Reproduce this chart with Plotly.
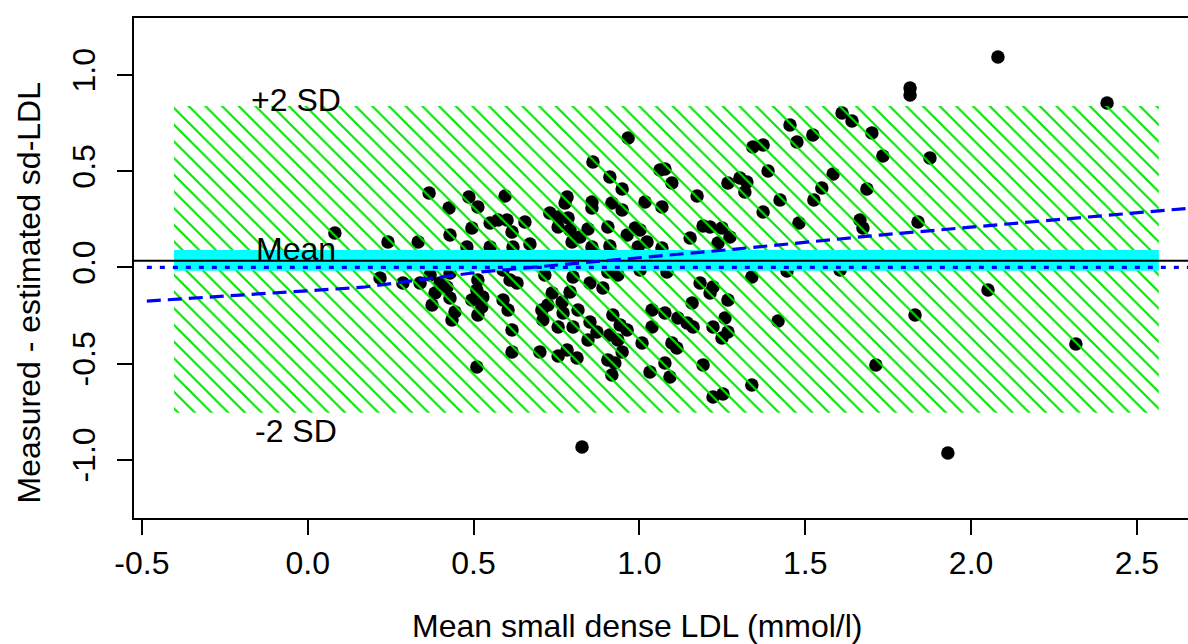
import plotly.graph_objects as go

# mean of the two methods (x) and measured - estimated difference (y)
mean_ldl = [
    0.082, 0.242, 0.333, 0.366, 0.426, 0.429, 0.486, 0.513, 0.495, 0.550,
    0.574, 0.480, 0.550, 0.595, 0.966, 0.860, 0.911, 0.948, 1.062, 1.077,
    1.098, 1.174, 1.267, 1.303, 1.324, 1.318, 1.342, 1.373, 1.388, 1.454,
    1.475, 1.424, 1.373, 1.481, 0.782, 0.776, 0.857, 0.857, 0.917, 0.948,
    1.017, 1.068, 0.730, 0.755, 0.785, 0.601, 0.655, 0.616, 0.755, 0.791,
    0.845, 0.905, 0.821, 0.797, 0.963, 0.987, 1.002, 1.023, 0.996, 1.192,
    1.213, 1.249, 1.273, 1.153, 1.237, 0.911, 0.857, 0.670, 0.619, 1.068,
    0.905, 0.935, 1.002, 1.611, 1.641, 1.523, 1.701, 1.734, 1.584, 1.550,
    1.686, 1.526, 1.665, 1.674, 1.816, 1.816, 1.876, 1.840, 2.081, 2.410,
    1.605, 0.218, 0.287, 0.339, 0.369, 0.399, 0.429, 0.420, 0.384, 0.429,
    0.375, 0.444, 0.435, 0.513, 0.510, 0.495, 0.528, 0.525, 0.513, 0.510,
    0.589, 0.610, 0.631, 0.715, 0.800, 0.851, 0.890, 0.737, 0.791, 0.767,
    0.589, 0.604, 0.706, 0.724, 0.709, 0.770, 0.815, 0.755, 0.800, 0.851,
    0.872, 0.845, 0.920, 0.942, 0.963, 0.911, 0.935, 0.948, 0.905, 0.926,
    0.917, 0.616, 0.616, 0.700, 0.755, 0.782, 0.812, 1.008, 1.038, 1.038,
    1.077, 1.116, 1.144, 1.162, 1.098, 1.113, 1.077, 1.032, 1.092, 1.159,
    1.183, 1.222, 1.213, 1.267, 1.258, 1.222, 1.267, 1.249, 1.192, 1.339,
    1.418, 1.339, 1.222, 1.252, 0.827, 1.445, 1.083, 1.713, 2.051, 1.831,
    2.316, 1.930,
]
diff_ldl = [
    0.179, 0.132, 0.132, 0.387, 0.309, 0.168, 0.366, 0.314, 0.205, 0.231,
    0.246, 0.106, 0.106, 0.371, 0.673, 0.548, 0.470, 0.407, 0.506, 0.511,
    0.439, 0.371, 0.439, 0.465, 0.444, 0.392, 0.626, 0.636, 0.501, 0.740,
    0.652, 0.350, 0.288, 0.231, 0.366, 0.335, 0.340, 0.309, 0.335, 0.298,
    0.340, 0.314, 0.283, 0.262, 0.257, 0.246, 0.236, 0.184, 0.210, 0.194,
    0.200, 0.210, 0.158, 0.132, 0.168, 0.205, 0.194, 0.132, 0.106, 0.215,
    0.210, 0.205, 0.158, 0.153, 0.127, 0.111, 0.106, 0.122, 0.106, 0.101,
    -0.024, -0.040, -0.014, 0.803, 0.761, 0.688, 0.699, 0.579, 0.485, 0.413,
    0.407, 0.350, 0.246, 0.205, 0.932, 0.896, 0.569, 0.236, 1.094, 0.854,
    -0.014, -0.055, -0.081, -0.081, -0.040, -0.081, -0.029, -0.102, -0.133, -0.159,
    -0.195, -0.232, -0.273, -0.065, -0.117, -0.169, -0.154, -0.206, -0.247, -0.518,
    -0.014, -0.065, -0.081, -0.040, -0.050, -0.081, -0.107, -0.133, -0.128, -0.180,
    -0.169, -0.221, -0.221, -0.195, -0.273, -0.237, -0.221, -0.310, -0.310, -0.284,
    -0.336, -0.377, -0.247, -0.299, -0.325, -0.351, -0.377, -0.440, -0.481, -0.497,
    -0.559, -0.325, -0.440, -0.440, -0.461, -0.429, -0.471, -0.393, -0.221, -0.310,
    -0.237, -0.263, -0.289, -0.310, -0.393, -0.419, -0.497, -0.544, -0.570, -0.185,
    -0.081, -0.102, -0.133, -0.169, -0.263, -0.310, -0.336, -0.367, -0.507, -0.050,
    -0.279, -0.611, -0.674, -0.658, -0.933, -0.019, -0.024, -0.507, -0.117, -0.247,
    -0.398, -0.965,
]

# limits of agreement, mean, CI of mean
band_x = [-0.403, 2.566]
lower_sd = -0.755
upper_sd = 0.839
mean_diff = 0.035
ci_low = -0.017
ci_high = 0.090

# regression of difference on mean
reg_x = [-0.485, 0.167, 0.519, 1.282, 1.725, 2.548, 2.660]
reg_y = [-0.175, -0.103, -0.024, 0.094, 0.168, 0.290, 0.308]

line_x = [-0.485, 2.70]
full_x = [-0.60, 2.70]

x_ticks = [-0.5, 0.0, 0.5, 1.0, 1.5, 2.0, 2.5]
x_labels = ["-0.5", "0.0", "0.5", "1.0", "1.5", "2.0", "2.5"]
y_ticks = [-1.0, -0.5, 0.0, 0.5, 1.0]
y_labels = ["-1.0", "-0.5", "0.0", "0.5", "1.0"]

FONT = "Liberation Sans, Arial, sans-serif"

fig = go.Figure()

fig.add_trace(go.Scatter(
    x=mean_ldl, y=diff_ldl, mode="markers",
    marker=dict(color="black", size=13.5, line=dict(width=0)),
    hoverinfo="skip"))

# hatched +-2 SD region, drawn over the points
fig.add_trace(go.Scatter(
    x=[band_x[0], band_x[1], band_x[1], band_x[0], band_x[0]],
    y=[lower_sd, lower_sd, upper_sd, upper_sd, lower_sd],
    mode="lines", line=dict(width=0), fill="toself",
    fillcolor="rgba(0,0,0,0)",
    fillpattern=dict(shape="\\", fgcolor="#00e600", bgcolor="rgba(0,0,0,0)",
                     fillmode="replace", size=11.8, solidity=0.18),
    hoverinfo="skip"))

# cyan band around the mean
fig.add_trace(go.Scatter(
    x=[band_x[0], band_x[1], band_x[1], band_x[0], band_x[0]],
    y=[ci_low, ci_low, ci_high, ci_high, ci_low],
    mode="lines", line=dict(width=0), fill="toself",
    fillcolor="#00ffff", hoverinfo="skip"))

fig.add_trace(go.Scatter(
    x=full_x, y=[mean_diff, mean_diff], mode="lines",
    line=dict(color="black", width=2), hoverinfo="skip"))

fig.add_trace(go.Scatter(
    x=line_x, y=[0, 0], mode="lines",
    line=dict(color="#0000ff", width=3.2, dash="5px,8px"), hoverinfo="skip"))

fig.add_trace(go.Scatter(
    x=reg_x, y=reg_y, mode="lines",
    line=dict(color="#0000ff", width=3.2, dash="14px,7px"), hoverinfo="skip"))

for txt, yy in [("+2 SD", 0.870), ("Mean", 0.096), ("-2 SD", -0.850)]:
    fig.add_annotation(x=-0.035, y=yy, text=txt, showarrow=False,
                       font=dict(family=FONT, size=32, color="black"),
                       xanchor="center", yanchor="middle")

fig.add_annotation(xref="paper", yref="paper", x=0.4775, y=-0.216,
                   text="Mean small dense LDL (mmol/l)", showarrow=False,
                   font=dict(family=FONT, size=32, color="black"),
                   xanchor="center", yanchor="middle")
fig.add_annotation(xref="paper", yref="paper", x=-0.0996, y=0.451,
                   text="Measured - estimated sd-LDL", showarrow=False,
                   textangle=-90,
                   font=dict(family=FONT, size=32, color="black"),
                   xanchor="center", yanchor="middle")

fig.update_layout(
    width=1188, height=644,
    margin=dict(l=134, r=0, t=18, b=126),
    paper_bgcolor="white", plot_bgcolor="white",
    showlegend=False,
    font=dict(family=FONT, size=32, color="black"),
    xaxis=dict(range=[-0.5237, 2.654], showgrid=False, zeroline=False,
               showline=True, linecolor="black", linewidth=2, mirror=True,
               ticks="outside", ticklen=15, tickwidth=1.5, tickcolor="black",
               tickvals=x_ticks, ticktext=x_labels, ticklabelstandoff=1),
    yaxis=dict(range=[-1.3025, 1.2963], showgrid=False, zeroline=False,
               showline=True, linecolor="black", linewidth=2,
               ticks="outside", ticklen=15, tickwidth=1.5, tickcolor="black",
               tickvals=y_ticks, ticktext=y_labels, tickangle=-90,
               ticklabelstandoff=9),
)

fig.write_html("out.html",
               config={"displayModeBar": False},
               post_script="document.body.style.margin='0';"
                           "document.body.style.overflow='hidden';")
